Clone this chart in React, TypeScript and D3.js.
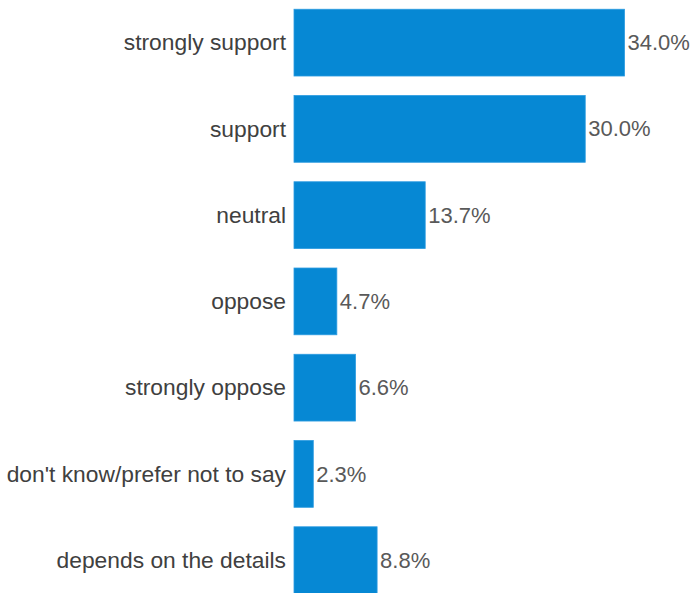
import React from "react";
import * as d3 from "d3";

const categories = [
  "strongly support",
  "support",
  "neutral",
  "oppose",
  "strongly oppose",
  "don't know/prefer not to say",
  "depends on the details",
];
const values = [34.0, 30.0, 13.7, 4.7, 6.6, 2.3, 8.8];

const W = 693;
const H = 593;
const barColor = "#0688D4";
// small white gap between the category axis and the start of each bar
const baseGap = 3.3;

export default function App() {
  const x = d3.scaleLinear().domain([0, 34]).range([290.7, 624.5]);
  const y = d3
    .scaleBand<string>()
    .domain(categories)
    .range([-0.5, 603.3])
    .paddingInner(0.226)
    .paddingOuter(0.113);

  return (
    <svg
      width={W}
      height={H}
      style={{ position: "absolute", left: 0, top: 0 }}
      fontFamily="'Liberation Sans', Arial, sans-serif"
    >
      <rect width={W} height={H} fill="#fff" />
      {categories.map((c, i) => {
        const y0 = y(c)!;
        const bh = y.bandwidth();
        const cy = y0 + bh / 2;
        const x0 = x(0) + baseGap;
        return (
          <g key={c}>
            <rect
              x={x0}
              y={y0}
              width={x(values[i]) - x0}
              height={bh}
              fill={barColor}
              stroke="#2b9be0"
              strokeWidth={0.8}
            />
            <text
              x={286}
              y={cy + 7.8}
              textAnchor="end"
              fontSize={22.8}
              fill="#404040"
            >
              {c}
            </text>
            <text
              x={x(values[i]) + 3}
              y={cy + 7.6}
              fontSize={22}
              fill="#595959"
            >
              {values[i].toFixed(1) + "%"}
            </text>
          </g>
        );
      })}
    </svg>
  );
}
